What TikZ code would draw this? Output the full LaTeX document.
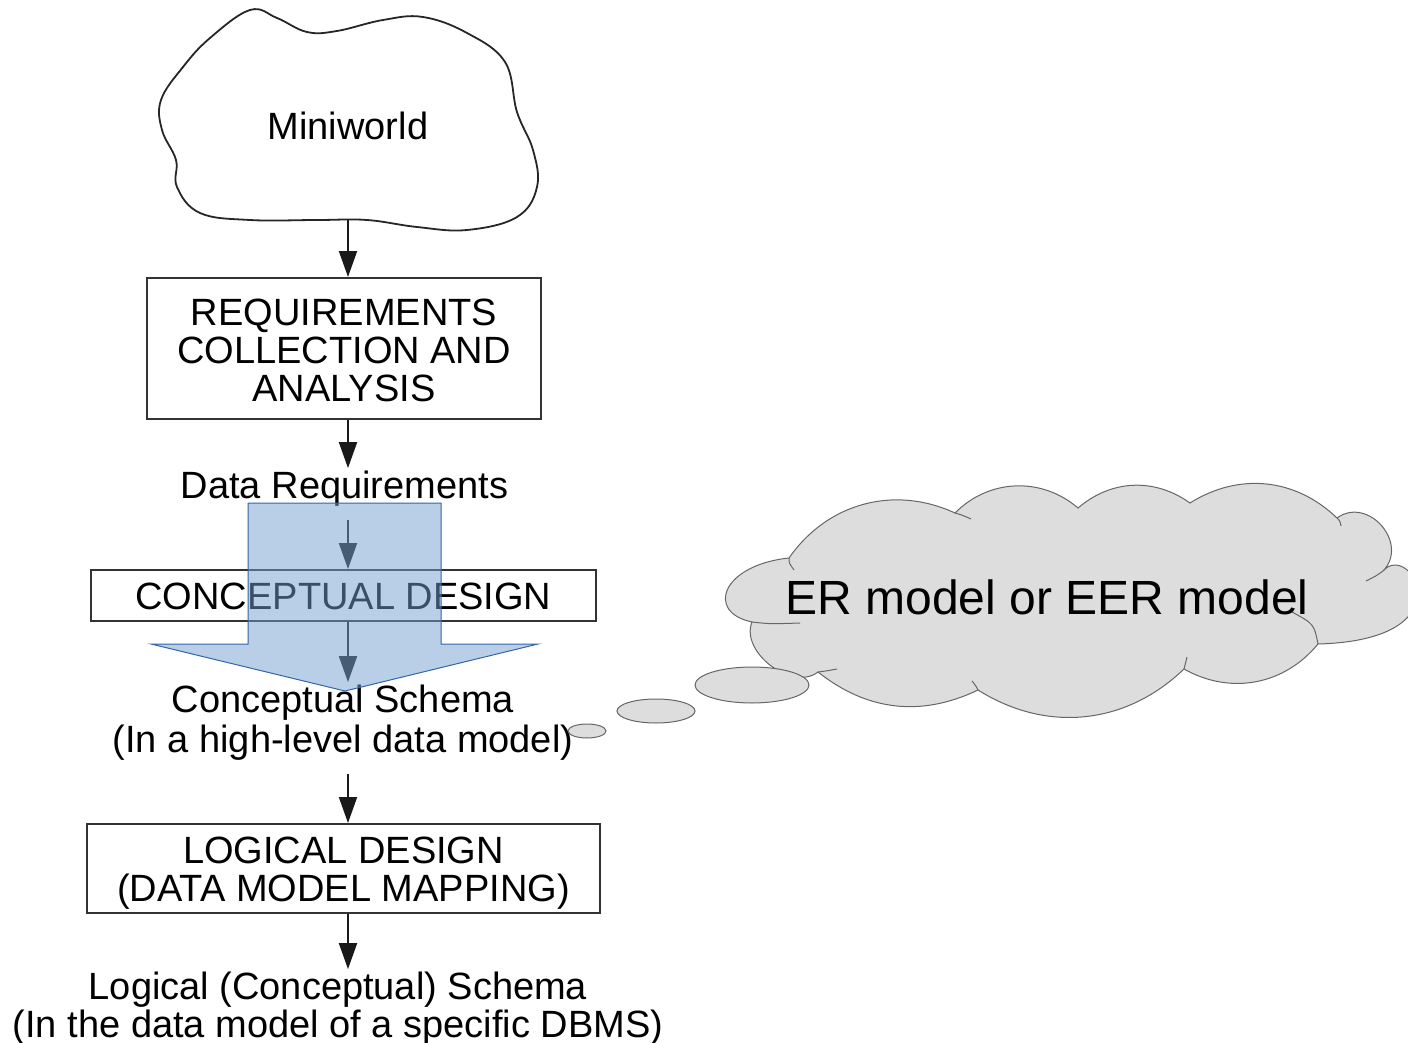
\documentclass[tikz,border=0pt]{standalone}
\usepackage{fontspec}
\setmainfont{Liberation Sans}
\usetikzlibrary{arrows.meta}
\newcommand\dgfont{\fontsize{38}{38}\selectfont}
\newcommand\erfont{\fontsize{48}{48}\selectfont}
\newcommand\dnstrut[1]{\rule{0pt}{#1pt}}
\definecolor{bluefill}{HTML}{729FCF}
\definecolor{blueline}{HTML}{3465A4}
\definecolor{cloudfill}{HTML}{DDDDDD}
\definecolor{cloudline}{HTML}{666666}
\begin{document}
\begin{tikzpicture}[x=1pt,y=-1pt,
  arr/.style={line width=2pt, draw=black!90, -{Triangle[width=18pt,length=26pt]}},
  box/.style={draw=black!80, line width=2pt, inner sep=0pt, align=center, font=\dgfont},
  lbl/.style={align=center, font=\dgfont, inner sep=1pt},
  thought/.style={fill=cloudfill, draw=cloudline, line width=1pt},
  innerarc/.style={draw=cloudline, line width=1pt},
  blockarrow/.style={fill=bluefill, fill opacity=0.5, draw=blueline, line width=1pt}]
\useasboundingbox (0,0) rectangle (1408,1043);

% Miniworld cloud
\draw[line width=1.8pt, black!85] plot[smooth cycle, tension=0.65] coordinates {
 (250,10) (277,18) (307,32) (337,31) (383,20) (423,17) (467,33) (505,62) (517,112)
 (533,150) (537,187) (517,217) (467,230) (417,227) (367,220) (317,220) (250,220)
 (200,213) (177,187) (176,160) (162,130) (161,100) (183,67) (210,38)};
\node[lbl] (mini) at (348,126) {Miniworld};
\coordinate (minibot) at (348,220);

% boxes and labels
\node[box, minimum width=394pt, minimum height=141pt] (req) at (344,348.5)
  {\dnstrut{31}REQUIREMENTS\\COLLECTION AND\\ANALYSIS};
\node[lbl] (datareq) at (344.5,489) {Data Requirements};
\node[box, minimum width=505pt, minimum height=51pt] (concept) at (343.5,595.5)
  {\dnstrut{29}CONCEPTUAL DESIGN};
\node[lbl, font=\fontsize{38}{40}\selectfont] (cschema) at (343,723)
  {Conceptual Schema\\(In a high-level data model)};
\node[box, minimum width=513pt, minimum height=89pt] (logical) at (343.5,868.5)
  {\dnstrut{35}LOGICAL DESIGN\\(DATA MODEL MAPPING)};
\node[lbl] (lschema) at (338,1009)
  {Logical (Conceptual) Schema\\(In the data model of a specific DBMS)};

% connectors
\draw[arr] (minibot) -- (minibot |- req.north);
\draw[arr] (req.south -| minibot) -- ([yshift=2pt]datareq.north -| minibot);
\draw[arr, shorten <=12pt] (datareq.south -| minibot) -- (concept.north -| minibot);
\draw[arr, shorten >=2pt] (concept.south -| minibot) -- (cschema.north -| minibot);
\draw[arr, shorten <=12pt] (cschema.south -| minibot) -- (logical.north -| minibot);
\draw[arr, shorten >=2pt] (logical.south -| minibot) -- (lschema.north -| minibot);

% blue block arrow overlay
\path[blockarrow] (248,503) -- (441,503) -- (441,644) -- (538,644) -- (345,691)
  -- (151,644) -- (248,644) -- cycle;

% thought cloud
\path[thought] (789,558) to[bend left=40] (955,513) to[bend left=43] (1078,508)
  to[bend left=38] (1190,503) to[bend left=38] (1337,518)
  to[bend left=85, looseness=1.4] (1383,571)
  .. controls (1410,540) and (1470,640) .. (1318,644)
  to[bend left=40] (1184,669)
  to[bend left=38] (978,690) to[bend left=32] (818,672) to[bend left=75] (752,622)
  .. controls (705,612) and (722,565) .. (789,558) -- cycle;
% inner arc ends of the overlapping lobes
\path[innerarc] (789,558) .. controls (789,563) .. (794,570);
\path[innerarc] (955,513) .. controls (962,515) .. (971,519);
\path[innerarc] (1337,518) .. controls (1340,521) .. (1341,526);
\path[innerarc] (1383,571) .. controls (1376,576) .. (1366,581);
\path[innerarc] (1318,644) .. controls (1314,624) .. (1292,612);
\path[innerarc] (1184,669) .. controls (1185,663) .. (1187,657);
\path[innerarc] (978,690) .. controls (976,686) .. (972,681);
\path[innerarc] (818,672) .. controls (826,671) .. (837,669);
\path[innerarc] (752,622) .. controls (770,624) .. (800,623);
\node[font=\erfont, inner sep=0pt] (er) at (1047,597) {ER model or EER model};
\draw[thought] (752,685) ellipse [x radius=57, y radius=18];
\draw[thought] (656,711) ellipse [x radius=39, y radius=12];
\draw[thought] (587,731) ellipse [x radius=19, y radius=7];
\end{tikzpicture}
\end{document}
